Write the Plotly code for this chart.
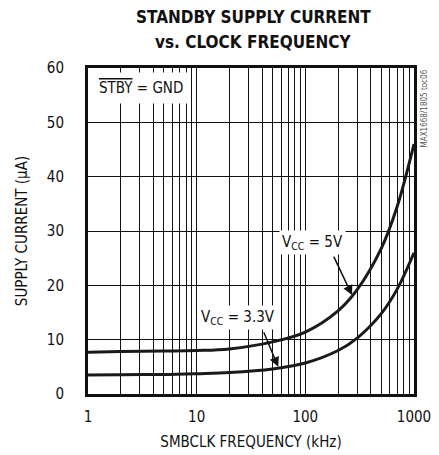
import plotly.graph_objects as go

freq_khz = [1, 2, 5, 10, 20, 50, 100, 200, 300, 500, 700, 1000]
i_5v = [7.7, 7.8, 7.9, 8.0, 8.3, 9.6, 11.4, 15.3, 19.2, 26.8, 34.5, 46.0]
i_3v3 = [3.5, 3.55, 3.6, 3.75, 3.95, 4.6, 5.7, 8.0, 10.3, 14.8, 19.3, 26.0]

x_ticks = [1, 10, 100, 1000]
x_tick_labels = ["1", "10", "100", "1000"]
y_ticks = [0, 10, 20, 30, 40, 50, 60]

FONT = "Liberation Sans Narrow, DejaVu Sans Condensed, sans-serif"
TFONT = "DejaVu Sans Condensed, Liberation Sans Narrow, sans-serif"

fig = go.Figure()
for ys in (i_5v, i_3v3):
    fig.add_trace(go.Scatter(x=freq_khz, y=ys, mode="lines",
                             line=dict(color="#1a1a1a", width=3, shape="spline", smoothing=1.0),
                             showlegend=False, hoverinfo="skip"))

minor = [m * 10 ** d for d in range(3) for m in range(1, 10)] + [1000]

fig.update_layout(
    width=431, height=447,
    margin=dict(l=80, r=25, t=60, b=61),
    paper_bgcolor="white", plot_bgcolor="white",
    font=dict(family=FONT, size=14, color="#111"),
    xaxis=dict(type="log", range=[0, 3], automargin=False,
               tickvals=x_ticks, ticktext=x_tick_labels,
               showgrid=True, gridcolor="#111", gridwidth=1,
               minor=dict(tickvals=minor, showgrid=True, gridcolor="#111", gridwidth=1, ticks=""),
               showline=True, linecolor="#111", linewidth=3, mirror=True,
               ticks="", zeroline=False, ticklabelstandoff=7,
               title=dict(text="SMBCLK FREQUENCY (kHz)", standoff=12, font=dict(size=15)),
               tickfont=dict(size=15)),
    yaxis=dict(range=[0, 60], tickvals=y_ticks, automargin=False,
               showgrid=True, gridcolor="#111", gridwidth=1,
               showline=True, linecolor="#111", linewidth=3, mirror=True,
               ticks="", zeroline=False, ticklabelstandoff=18,
               title=dict(text="SUPPLY CURRENT (µA)", standoff=16, font=dict(size=15)),
               tickfont=dict(size=15)),
)

# title lines
fig.add_annotation(xref="paper", yref="paper", x=0.507, y=1.156, yanchor="middle",
                   text="<b>STANDBY SUPPLY CURRENT</b>", showarrow=False,
                   font=dict(family=TFONT, size=17, color="#111"))
fig.add_annotation(xref="paper", yref="paper", x=0.507, y=1.08, yanchor="middle",
                   text="<b>vs. CLOCK FREQUENCY</b>", showarrow=False,
                   font=dict(family=TFONT, size=17, color="#111"))

# STBY = GND label box
fig.add_annotation(xref="x", yref="y", x=0.49, y=56.4,
                   text="<span style='text-decoration:overline'>STBY</span> = GND",
                   showarrow=False, bgcolor="white", borderpad=6,
                   font=dict(size=15))
# Vcc labels
fig.add_annotation(xref="x", yref="y", x=2.07, y=27.8,
                   text="V<sub>CC</sub> = 5V", showarrow=False, bgcolor="white",
                   borderpad=2, font=dict(size=15))
fig.add_annotation(xref="x", yref="y", x=1.38, y=14.0,
                   text="V<sub>CC</sub> = 3.3V", showarrow=False, bgcolor="white",
                   borderpad=2, font=dict(size=15))
# arrows
fig.add_annotation(xref="x", yref="y", x=2.43, y=18.2, ax=-19, ay=-40, text="",
                   showarrow=True, arrowhead=2, arrowsize=1.3, arrowwidth=1.5, arrowcolor="#111")
fig.add_annotation(xref="x", yref="y", x=1.75, y=5.0, ax=-15, ay=-36, text="",
                   showarrow=True, arrowhead=2, arrowsize=1.3, arrowwidth=1.5, arrowcolor="#111")
# side code
fig.add_annotation(xref="paper", yref="paper", x=1.0, y=1.0, xanchor="left", yanchor="top",
                   xshift=3, text="MAX1668/1805 toc06", textangle=-90, showarrow=False,
                   font=dict(family="DejaVu Sans Condensed, sans-serif", size=8, color="#555"))

fig.write_html("out.html")
